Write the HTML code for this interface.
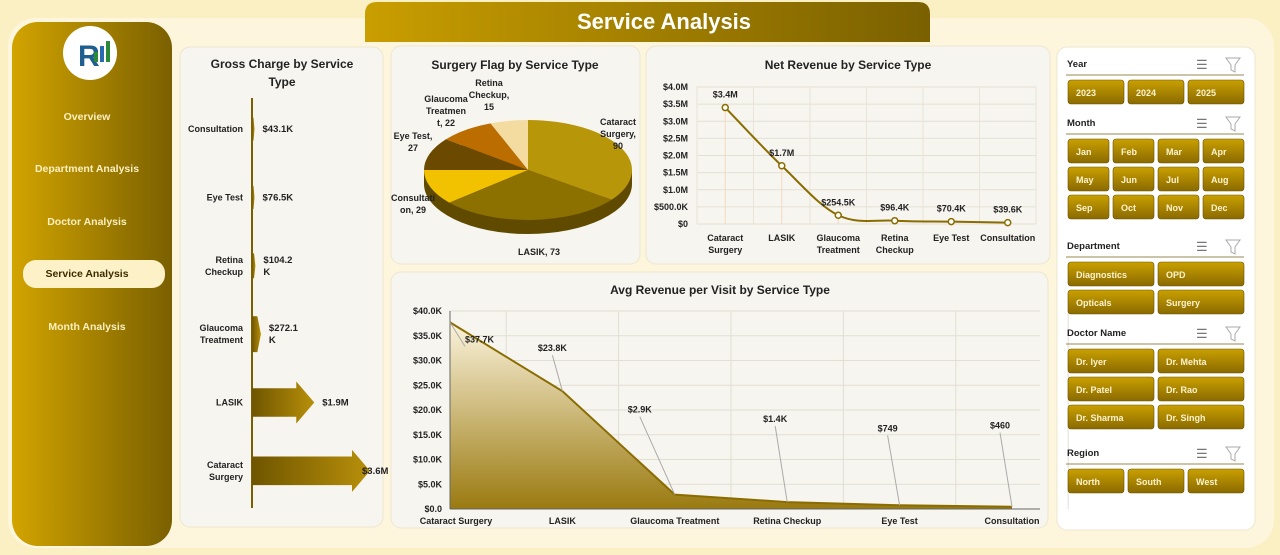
<!DOCTYPE html>
<html><head><meta charset="utf-8"><style>
body{margin:0;width:1280px;height:550px;overflow:hidden;background:#fbefc4;font-family:"Liberation Sans",sans-serif}
svg text{font-family:"Liberation Sans",sans-serif}
</style></head><body>
<svg id="s" width="1280" height="550" viewBox="0 0 1280 550" xmlns="http://www.w3.org/2000/svg">
<defs>
<linearGradient id="side" x1="0" x2="1"><stop offset="0" stop-color="#d2a400"/><stop offset="1" stop-color="#7a6000"/></linearGradient>
<linearGradient id="tab" x1="0" x2="1"><stop offset="0" stop-color="#c99e00"/><stop offset="1" stop-color="#7a6000"/></linearGradient>
<linearGradient id="btn" x1="0" y1="0" x2="0" y2="1"><stop offset="0" stop-color="#c9a000"/><stop offset="1" stop-color="#8a6a00"/></linearGradient>
<linearGradient id="arr" x1="0" x2="1"><stop offset="0" stop-color="#6f5500"/><stop offset="1" stop-color="#b8900a"/></linearGradient>
<linearGradient id="area" x1="0" y1="0" x2="0" y2="1"><stop offset="0" stop-color="#fbf3dc"/><stop offset="1" stop-color="#9a7a10"/></linearGradient>
</defs>
<rect x="0" y="0" width="1280" height="550" fill="#fbefc4"/>
<rect x="8" y="18" width="1266" height="530" rx="28" fill="#fdf5dc"/>
<path d="M365 42 V14 Q365 2 377 2 H918 Q930 2 930 14 V42 Z" fill="url(#tab)"/>
<text x="664" y="29" text-anchor="middle" font-size="22" font-weight="bold" fill="#fff">Service Analysis</text>
<rect x="12" y="22" width="160" height="524" rx="26" fill="url(#side)"/>
<circle cx="90" cy="53" r="27" fill="#fff"/>
<text x="78" y="66" font-size="30" font-weight="bold" fill="#1f5f8f" font-family="Liberation Serif">R</text>
<rect x="94" y="52" width="4" height="10" fill="#2a8a3a"/><rect x="100" y="46" width="4" height="16" fill="#2a6ab0"/><rect x="106" y="41" width="4" height="21" fill="#2a8a3a"/>
<rect x="23" y="260" width="142" height="28" rx="13" fill="#fdf1c8"/>
<g font-size="10.5" font-weight="bold" text-anchor="middle">
<text x="87" y="120" fill="#fdf0c0">Overview</text>
<text x="87" y="172" fill="#fdf0c0">Department Analysis</text>
<text x="87" y="225" fill="#fdf0c0">Doctor Analysis</text>
<text x="87" y="277" fill="#3a2e00">Service Analysis</text>
<text x="87" y="330" fill="#fdf0c0">Month Analysis</text>
</g>
<g fill="#f7f5ef" stroke="#ece6d0">
<rect x="180" y="47" width="203" height="480" rx="10"/>
<rect x="391" y="46" width="249" height="218" rx="10"/>
<rect x="646" y="46" width="404" height="218" rx="10"/>
<rect x="391" y="272" width="657" height="256" rx="10"/>
<rect x="1057" y="47" width="198" height="483" rx="10" fill="#fff"/>
</g>
<g font-weight="bold" fill="#222" text-anchor="middle" font-size="12">
<text x="282" y="68">Gross Charge by Service</text>
<text x="282" y="86">Type</text>
<text x="515" y="69">Surgery Flag by Service Type</text>
<text x="848" y="69">Net Revenue by Service Type</text>
<text x="720" y="294">Avg Revenue per Visit by Service Type</text>
</g>
<g id="gross"></g><g id="pie"></g><g id="net"></g><g id="avg"></g><g id="slicers"></g>
</svg>
<script>
const NS="http://www.w3.org/2000/svg";
function mk(p,tag,a,txt){const e=document.createElementNS(NS,tag);for(const k in a)e.setAttribute(k,a[k]);if(txt!==undefined)e.textContent=txt;p.appendChild(e);return e;}
function T(p,x,y,s,o){return mk(p,'text',Object.assign({x:x,y:y,'font-size':9,'font-weight':'bold',fill:'#222'},o||{}),s);}

// ---------- Gross charge ----------
const grossCats=["Consultation","Eye Test","Retina|Checkup","Glaucoma|Treatment","LASIK","Cataract|Surgery"];
const grossVals=[43.1,76.5,104.2,272.1,1900,3600]; // $K
const grossLabels=["$43.1K","$76.5K","$104.2|K","$272.1|K","$1.9M","$3.6M"];
(function(){
 const g=document.getElementById('gross');
 const x0=252,top=98,bot=508,n=grossCats.length,band=(bot-top)/n;
 const xs=v=>v/3600*118;
 mk(g,'line',{x1:x0,y1:top,x2:x0,y2:bot,stroke:'#7a6000','stroke-width':2});
 grossCats.forEach((c,i)=>{
  const cy=top+band*(i+0.5)-3, w=Math.max(2.5,xs(grossVals[i]));
  const h=w>20?42:Math.min(36,18+w*2);
  const head=w>20?Math.min(18,w*0.3):w*0.4;
  const sh=w>20?h*0.34:h/2;
  const el=mk(g,'path',{d:`M${x0} ${cy-sh}H${x0+w-head}V${cy-h/2}L${x0+w} ${cy}L${x0+w-head} ${cy+h/2}V${cy+sh}H${x0}Z`,fill:'url(#arr)'});
  
  
  const cl=c.split('|');cl.forEach((s,j)=>T(g,243,cy+3+(j-(cl.length-1)/2)*12,s,{'text-anchor':'end'}));
  const ll=grossLabels[i].split('|');const lx=x0+w+(w>100?-8:8);
  ll.forEach((s,j)=>T(g,lx,cy+3+(j-(ll.length-1)/2)*12,s,{'font-size':9.5}));
 });
})();

// ---------- Pie ----------
const pieCats=["Cataract Surgery","LASIK","Consultation","Eye Test","Glaucoma Treatment","Retina Checkup"];
const pieVals=[90,73,29,27,22,15];
const pieCols=["#b8960a","#8c7000","#f2c200","#6b4a00","#bb6d00","#f4dca0"];
(function(){
 const g=document.getElementById('pie');
 const cx=528,cy=170,rx=104,ry=50,d=14,tot=pieVals.reduce((a,b)=>a+b,0);
 const pt=(a,dy)=>[cx+rx*Math.sin(a),cy-ry*Math.cos(a)+(dy||0)];
 mk(g,'ellipse',{cx:cx,cy:cy+d,rx:rx,ry:ry,fill:'#5f4a00'});
 mk(g,'rect',{x:cx-rx,y:cy,width:2*rx,height:d,fill:'#5f4a00'});
 let a=0;
 pieVals.forEach((v,i)=>{
  const b=a+v/tot*2*Math.PI,p1=pt(a),p2=pt(b),lg=(b-a)>Math.PI?1:0;
  const el=mk(g,'path',{d:`M${cx} ${cy}L${p1[0]} ${p1[1]}A${rx} ${ry} 0 ${lg} 1 ${p2[0]} ${p2[1]}Z`,fill:pieCols[i]});
  
  
  a=b;
 });
 const labs=[[618,125,["Cataract","Surgery,","90"]],[539,255,["LASIK, 73"]],[413,201,["Consultati","on, 29"]],[413,139,["Eye Test,","27"]],[446,102,["Glaucoma","Treatmen","t, 22"]],[489,86,["Retina","Checkup,","15"]]];
 labs.forEach(L=>L[2].forEach((s,j)=>T(g,L[0],L[1]+j*12,s,{'text-anchor':'middle'})));
})();

// ---------- Net revenue ----------
const netCats=["Cataract|Surgery","LASIK","Glaucoma|Treatment","Retina|Checkup","Eye Test","Consultation"];
const netVals=[3.4,1.7,0.2545,0.0964,0.0704,0.0396]; // $M
const netLabels=["$3.4M","$1.7M","$254.5K","$96.4K","$70.4K","$39.6K"];
const netTicks=["$0","$500.0K","$1.0M","$1.5M","$2.0M","$2.5M","$3.0M","$3.5M","$4.0M"];
(function(){
 const g=document.getElementById('net');
 const L=697,R=1036,B=224,Tp=87,n=netCats.length;
 const ys=v=>B-(v/4)*(B-Tp), xs=i=>L+(R-L)/n*(i+0.5);
 netTicks.forEach((t,i)=>{const y=B-i*(B-Tp)/8;mk(g,'line',{x1:L,x2:R,y1:y,y2:y,stroke:'#e4e0d4'});T(g,L-9,y+3,t,{'text-anchor':'end','font-size':9});});
 for(let i=0;i<=n;i++){const x=L+(R-L)/n*i;mk(g,'line',{x1:x,x2:x,y1:Tp,y2:B,stroke:'#e8e4d8'});}
 const P=netVals.map((v,i)=>[xs(i),ys(v)]);
 let d=`M${P[0][0]} ${P[0][1]}`;
 for(let i=1;i<P.length;i++){const p0=P[i-1],p1=P[i],pm=P[i-2]||p0,pn=P[i+1]||p1;
  d+=`C${p0[0]+(p1[0]-pm[0])/6} ${p0[1]+(p1[1]-pm[1])/6} ${p1[0]-(pn[0]-p0[0])/6} ${p1[1]-(pn[1]-p0[1])/6} ${p1[0]} ${p1[1]}`;}
 const ln=mk(g,'path',{d:d,fill:'none',stroke:'#8a6c00','stroke-width':2});
 
 
 P.forEach((p,i)=>{mk(g,'line',{x1:p[0],x2:p[0],y1:p[1],y2:B,stroke:'#f5d8c0'});
  const c=mk(g,'circle',{cx:p[0],cy:p[1],r:3,fill:'#fff',stroke:'#8a6c00','stroke-width':1.5});
  
  
  T(g,p[0],p[1]-10,netLabels[i],{'text-anchor':'middle'});
  netCats[i].split('|').forEach((s,j)=>T(g,p[0],B+17+j*12,s,{'text-anchor':'middle'}));});
})();

// ---------- Avg revenue ----------
const avgCats=["Cataract Surgery","LASIK","Glaucoma Treatment","Retina Checkup","Eye Test","Consultation"];
const avgVals=[37.7,23.8,2.9,1.4,0.749,0.46]; // $K
const avgLabels=["$37.7K","$23.8K","$2.9K","$1.4K","$749","$460"];
const avgTicks=["$0.0","$5.0K","$10.0K","$15.0K","$20.0K","$25.0K","$30.0K","$35.0K","$40.0K"];
(function(){
 const g=document.getElementById('avg');
 const L=450,R=1012,B=509,Tp=311,n=avgCats.length;
 const ys=v=>B-(v/40)*(B-Tp), xs=i=>L+(R-L)/(n-1)*i;
 avgTicks.forEach((t,i)=>{const y=B-i*(B-Tp)/8;mk(g,'line',{x1:L,x2:R+28,y1:y,y2:y,stroke:'#e2ded2'});T(g,L-8,y+3,t,{'text-anchor':'end'});});
 for(let i=0;i<n;i++){const x=xs(i)+(R-L)/(n-1)/2;mk(g,'line',{x1:x,x2:x,y1:Tp,y2:B,stroke:'#e2ded2'});}
 const P=avgVals.map((v,i)=>[xs(i),ys(v)]);
 const ar=mk(g,'path',{d:'M'+P.map(p=>p.join(' ')).join('L')+`L${R} ${B}L${L} ${B}Z`,fill:'url(#area)'});
 
 
 mk(g,'polyline',{points:P.map(p=>p.join(',')).join(' '),fill:'none',stroke:'#8a6c00','stroke-width':2});
 mk(g,'line',{x1:L,x2:L,y1:Tp,y2:B,stroke:'#666'});mk(g,'line',{x1:L,x2:R+28,y1:B,y2:B,stroke:'#666'});
 const off=[[15,20],[-10,-40],[-35,-82],[-12,-80],[-12,-74],[-12,-78]];
 P.forEach((p,i)=>{const lx=p[0]+off[i][0],ly=p[1]+off[i][1];
  mk(g,'line',{x1:p[0],y1:p[1],x2:lx,y2:ly+4,stroke:'#aaa'});
  T(g,lx,ly,avgLabels[i],{'text-anchor':i==0?'start':'middle'});
  const t=T(g,p[0]+(i==0?6:0),B+15,avgCats[i],{'text-anchor':'middle'});
  
  });
})();

// ---------- Slicers ----------
const slicerGroups=[
 {title:"Year",y:63,cols:3,items:["2023","2024","2025"]},
 {title:"Month",y:122,cols:4,items:["Jan","Feb","Mar","Apr","May","Jun","Jul","Aug","Sep","Oct","Nov","Dec"]},
 {title:"Department",y:245,cols:2,items:["Diagnostics","OPD","Opticals","Surgery"]},
 {title:"Doctor Name",y:332,cols:2,items:["Dr. Iyer","Dr. Mehta","Dr. Patel","Dr. Rao","Dr. Sharma","Dr. Singh"]},
 {title:"Region",y:452,cols:3,items:["North","South","West"]}];
(function(){
 const g=document.getElementById('slicers');
 slicerGroups.forEach(sg=>{
  T(g,1067,sg.y+4,sg.title,{'font-size':9.5});
  T(g,1196,sg.y+6,"☰",{'font-size':13,fill:'#777','font-weight':'normal'});
  mk(g,'path',{d:`M${1226} ${sg.y-5}H${1240}L${1235} ${sg.y+2}V${sg.y+9}L${1231} ${sg.y+7}V${sg.y+2}Z`,fill:'none',stroke:'#aaa','stroke-width':1});
  mk(g,'line',{x1:1066,x2:1244,y1:sg.y+12,y2:sg.y+12,stroke:'#9a8a50'});
  const W=1244-1068,gap=4,bw=(W-gap*(sg.cols-1))/sg.cols;
  sg.items.forEach((it,k)=>{const r=Math.floor(k/sg.cols),c=k%sg.cols,x=1068+c*(bw+gap),y=sg.y+17+r*28;
   const b=mk(g,'rect',{x:x,y:y,width:bw,height:24,rx:3,fill:'url(#btn)',stroke:'#6a5200','stroke-width':0.6});
   
   
   T(g,x+8,y+16,it,{fill:'#fdf3d0','font-size':9});});
 });
})();
</script>
</body></html>
